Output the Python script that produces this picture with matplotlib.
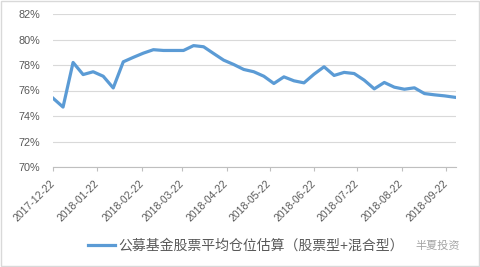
import matplotlib
matplotlib.use('Agg')
import matplotlib.pyplot as plt
import matplotlib.transforms as mtransforms
import pandas as pd

plt.rcParams['font.family'] = ['Liberation Sans', 'Noto Sans CJK SC', 'DejaVu Sans']

# weekly estimate of public fund equity position (%)
dates = pd.date_range('2017-12-22', periods=41, freq='7D')
position = [75.4, 74.7, 78.2, 77.25, 77.47, 77.12, 76.2, 78.25, 78.6, 78.93,
            79.2, 79.14, 79.14, 79.14, 79.52, 79.43, 78.9, 78.38, 78.04, 77.65,
            77.47, 77.12, 76.55, 77.07, 76.76, 76.6, 77.28, 77.86, 77.18, 77.42,
            77.33, 76.81, 76.13, 76.63, 76.26, 76.1, 76.21, 75.76, 75.66, 75.58,
            75.47]
tick_dates = pd.to_datetime(['2017-12-22', '2018-01-22', '2018-02-22', '2018-03-22',
                             '2018-04-22', '2018-05-22', '2018-06-22', '2018-07-22',
                             '2018-08-22', '2018-09-22'])
y_ticks = [70, 72, 74, 76, 78, 80, 82]
label = '公募基金股票平均仓位估算（股票型+混合型）'

fig = plt.figure(figsize=(4.8, 2.67), dpi=100)
ax = fig.add_axes([53/480, 1-167/267, (456-53)/480, (167-14)/267])

line, = ax.plot(dates, position, color='#5B9BD5', lw=2.3, solid_joinstyle='round')

ax.set_ylim(70, 82)
ax.set_yticks(y_ticks)
ax.set_yticklabels([f'{v}%' for v in y_ticks])
ax.set_xlim(pd.Timestamp('2017-12-22'), pd.Timestamp('2018-09-29'))
ax.set_xticks(tick_dates)
ax.set_xticklabels([d.strftime('%Y-%m-%d') for d in tick_dates],
                   rotation=45, ha='right', va='center', rotation_mode='anchor')
shift = mtransforms.ScaledTranslation(3/100, 0, fig.dpi_scale_trans)
for t in ax.get_xticklabels():
    t.set_transform(t.get_transform() + shift)

ax.grid(axis='y', color='#D9D9D9', lw=0.8)
ax.set_axisbelow(True)
for s in ['top', 'right', 'left']:
    ax.spines[s].set_visible(False)
ax.spines['bottom'].set_color('#BFBFBF')
ax.spines['bottom'].set_linewidth(0.8)
ax.tick_params(axis='y', length=0, labelsize=7.8, labelcolor='#595959', pad=9)
ax.tick_params(axis='x', length=3, color='#BFBFBF', labelsize=7.5, labelcolor='#595959', pad=8)

fig.legend([line], [label], loc='center left', bbox_to_anchor=(82/480, 1-246/267),
           frameon=False, fontsize=10, handlelength=2.0, handletextpad=0.2,
           labelcolor='#595959', borderaxespad=0)
fig.text(415/480, 1-246/267, '半夏投资', fontsize=8, color='#A6A6A6', va='center', ha='left')

fig.patches.append(plt.Rectangle((0.002, 0.003), 0.995, 0.993, transform=fig.transFigure,
                                 fill=False, ec='#D9D9D9', lw=1))

fig.savefig('out.png', dpi=100)
